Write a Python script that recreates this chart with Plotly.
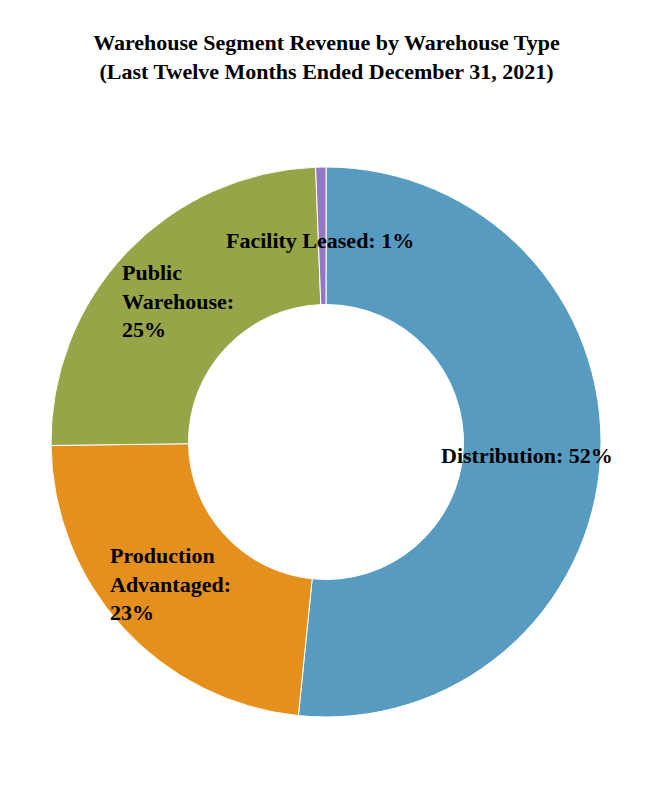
import plotly.graph_objects as go

labels = ["Distribution", "Production Advantaged", "Public Warehouse", "Facility Leased"]
values = [51.6, 23.2, 24.6, 0.6]
colors = ["#579CC0", "#E5901D", "#95A547", "#9177C5"]

# label text placement (paper coords) and how each label is wrapped
label_pos = [(0.865, 0.476, "center"), (0.104, 0.242, "left"), (0.125, 0.756, "left"), (0.489, 0.867, "center")]
label_wrap = ["Distribution", "Production<br>Advantaged", "Public<br>Warehouse", "Facility Leased"]
label_brk = [" ", "<br>", "<br>", " "]

total = sum(values)
font = "Liberation Serif, Times New Roman, serif"

fig = go.Figure()
fig.add_trace(go.Pie(
    labels=labels, values=values, hole=0.5, sort=False, direction="clockwise", rotation=0,
    marker=dict(colors=colors, line=dict(color="white", width=1)),
    textinfo="none", hoverinfo="label+percent", showlegend=False,
    domain=dict(x=[0, 1], y=[0, 1]),
))

for (x, y, anchor), name, brk, v in zip(label_pos, label_wrap, label_brk, values):
    pct = round(v / total * 100)
    fig.add_annotation(
        x=x, y=y, xref="paper", yref="paper", xanchor=anchor, yanchor="middle", align="left",
        text=f"<b>{name}:{brk}{pct}%</b>", showarrow=False,
        font=dict(family=font, size=22, color="black"),
    )

fig.update_layout(
    width=650, height=800,
    margin=dict(l=43, r=57, t=159, b=91),
    paper_bgcolor="white", plot_bgcolor="white",
    title=dict(
        text="<b>Warehouse Segment Revenue by Warehouse Type<br>(Last Twelve Months Ended December 31, 2021)</b>",
        x=0.49, xanchor="center", y=1 - 42 / 800, yanchor="middle", yref="container",
        font=dict(family=font, size=22, color="black"),
    ),
)

fig.write_html("out.html")
